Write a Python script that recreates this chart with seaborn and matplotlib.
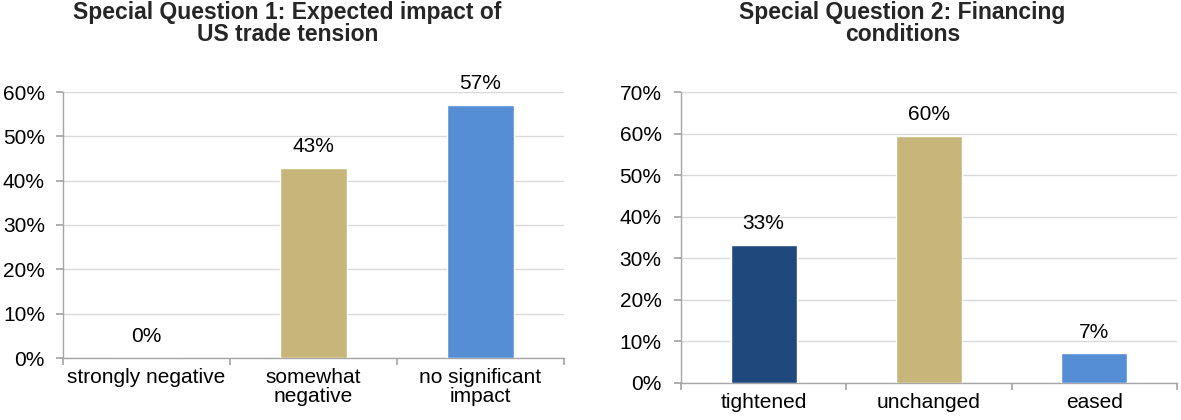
import matplotlib
matplotlib.use("Agg")
import matplotlib.pyplot as plt
import seaborn as sns
import pandas as pd
from matplotlib.ticker import FuncFormatter, MultipleLocator

# Survey results (share of respondents, %)
q1_title = "Special Question 1: Expected impact of\nUS trade tension"
q1_categories = ["strongly negative", "somewhat\nnegative", "no significant\nimpact"]
q1_values = [0.0, 42.9, 57.1]
q1_colors = ["#558ED5", "#C8B57A", "#558ED5"]

q2_title = "Special Question 2: Financing\nconditions"
q2_categories = ["tightened", "unchanged", "eased"]
q2_values = [33.3, 59.5, 7.1]
q2_colors = ["#1F497D", "#C8B57A", "#558ED5"]

FS = 15
TITLE_FS = 16.5

sns.set_theme(style="white")
plt.rcParams["font.family"] = ["Liberation Sans", "DejaVu Sans"]

fig = plt.figure(figsize=(11.81, 4.2), dpi=100)
ax1 = fig.add_axes([63 / 1181, 62 / 420, 501 / 1181, 266 / 420])
ax2 = fig.add_axes([681 / 1181, 37 / 420, 496 / 1181, 291 / 420])


def draw_panel(ax, cats, vals, colors, ymax, ypad):
    df = pd.DataFrame({"category": cats, "value": vals})
    sns.barplot(data=df, x="category", y="value", hue="category",
                palette=colors, legend=False, width=0.4, ax=ax,
                saturation=1, zorder=3)
    ax.set_ylim(0, ymax)
    ax.set_xlim(-0.5, len(cats) - 0.5)
    ax.yaxis.set_major_locator(MultipleLocator(10))
    ax.yaxis.set_major_formatter(FuncFormatter(lambda v, p: f"{v:.0f}%"))
    ax.grid(axis="y", color="#D9D9D9", linewidth=1, zorder=0)
    ax.set_axisbelow(True)
    for side in ("top", "right"):
        ax.spines[side].set_visible(False)
    for side in ("left", "bottom"):
        ax.spines[side].set_color("#A6A6A6")
        ax.spines[side].set_linewidth(1)
    ax.set_xlabel("")
    ax.set_ylabel("")
    ax.tick_params(axis="y", which="major", left=True, length=5,
                   color="#A6A6A6", labelsize=FS, labelcolor="black", pad=ypad)
    # category boundary ticks on the x axis
    ax.set_xticks([i - 0.5 for i in range(len(cats) + 1)], minor=False)
    ax.set_xticklabels([])
    ax.set_xticks(range(len(cats)), minor=True)
    ax.set_xticklabels(cats, minor=True)
    ax.tick_params(axis="x", which="major", bottom=True, length=5,
                   color="#A6A6A6")
    ax.tick_params(axis="x", which="minor", bottom=False, length=0,
                   labelsize=FS, labelcolor="black", pad=7)
    for lbl in ax.get_xticklabels(minor=True):
        lbl.set_linespacing(1.0)
    for i, v in enumerate(vals):
        ax.annotate(f"{v:.0f}%", xy=(i, v), xytext=(0, 8.3),
                    textcoords="offset points", ha="center", va="bottom",
                    fontsize=FS, color="black")


draw_panel(ax1, q1_categories, q1_values, q1_colors, 60, 8)
draw_panel(ax2, q2_categories, q2_values, q2_colors, 70, 9)

fig.text(287.5 / 1181, 0.997, q1_title, ha="center", va="top",
         fontsize=TITLE_FS, fontweight="bold", linespacing=0.93)
fig.text(902.5 / 1181, 0.997, q2_title, ha="center", va="top",
         fontsize=TITLE_FS, fontweight="bold", linespacing=0.93)

fig.savefig("out.png", dpi=100)
